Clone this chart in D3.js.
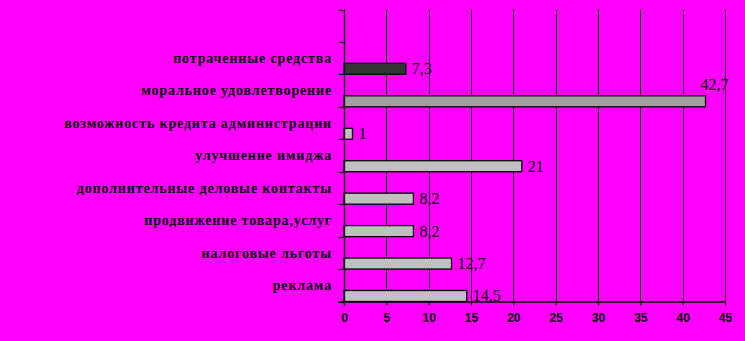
<!DOCTYPE html>
<html>
<head>
<meta charset="utf-8">
<script src="https://cdn.jsdelivr.net/npm/d3@7"></script>
<style>
  html, body { margin: 0; padding: 0; background: #ff00ff; }
  svg { display: block; }
</style>
</head>
<body>
<svg id="chart" width="745" height="341"></svg>
<script>
// Categories listed from the top of the chart to the bottom (first slot is left empty)
const categories = [
  "",
  "потраченные средства",
  "моральное удовлетворение",
  "возможность кредита администрации",
  "улучшение имиджа",
  "дополнительные деловые контакты",
  "продвижение товара,услуг",
  "налоговые льготы",
  "реклама"
];
const values = [null, 7.3, 42.7, 1, 21, 8.2, 8.2, 12.7, 14.5];
const valueLabels = ["", "7,3", "42,7", "1", "21", "8,2", "8,2", "12,7", "14,5"];
const barColors = [null, "#333333", "#a0a0a0", "#c0c0c0", "#c0c0c0", "#c0c0c0", "#c0c0c0", "#c0c0c0", "#c0c0c0"];
const xTicks = [0, 5, 10, 15, 20, 25, 30, 35, 40, 45];

const svg = d3.select("#chart");
const plotLeft = 344, plotRight = 725, plotTop = 9.5, plotBottom = 301.5;

const x = d3.scaleLinear().domain([0, 45]).range([plotLeft, plotRight]);
const y = d3.scaleBand().domain(d3.range(categories.length)).range([plotTop, plotBottom]).paddingInner(0).paddingOuter(0);
const barH = y.bandwidth() * 0.34;

// vertical grid lines
svg.append("g")
  .selectAll("line")
  .data(xTicks.filter(d => d > 0))
  .join("line")
  .attr("x1", d => Math.round(x(d)) + 0.5)
  .attr("x2", d => Math.round(x(d)) + 0.5)
  .attr("y1", plotTop)
  .attr("y2", plotBottom)
  .attr("stroke", "#000")
  .attr("stroke-width", 1);

// bars
const rows = categories.map((c, i) => ({ c, i, v: values[i], lab: valueLabels[i], col: barColors[i] }))
  .filter(d => d.v !== null);

svg.append("g")
  .selectAll("rect")
  .data(rows)
  .join("rect")
  .attr("x", x(0))
  .attr("y", d => y(d.i) + y.bandwidth() - barH)
  .attr("width", d => x(d.v) - x(0))
  .attr("height", barH)
  .attr("fill", d => d.col)
  .attr("stroke", "#000")
  .attr("stroke-width", 1.3);

// value labels; a label that would run past the plot edge is lifted above its bar
svg.append("g")
  .selectAll("text")
  .data(rows)
  .join("text")
  .each(function (d) {
    const barTop = y(d.i) + y.bandwidth() - barH;
    const overflow = x(d.v) + 36 > plotRight;
    d3.select(this)
      .attr("x", overflow ? x(d.v) - 5 : x(d.v) + 6)
      .attr("y", overflow ? barTop - 6 : barTop + barH / 2 + 5.5)
      .text(d.lab);
  })
  .attr("font-family", "'Liberation Serif', 'Times New Roman', serif")
  .attr("font-size", 16)
  .attr("fill", "#000");

// category labels, right-aligned, resting on the top edge of each bar
svg.append("g")
  .selectAll("text")
  .data(rows)
  .join("text")
  .attr("x", 332)
  .attr("y", d => y(d.i) + y.bandwidth() - barH - 0.5)
  .attr("text-anchor", "end")
  .attr("font-family", "'Liberation Serif', 'Times New Roman', serif")
  .attr("font-weight", "bold")
  .attr("font-size", 14)
  .attr("letter-spacing", 0.85)
  .attr("fill", "#000")
  .text(d => d.c);

// left (category) axis with ticks at band boundaries
const yAxis = svg.append("g");
yAxis.append("line")
  .attr("x1", plotLeft + 0.5).attr("x2", plotLeft + 0.5)
  .attr("y1", plotTop).attr("y2", plotBottom + 4)
  .attr("stroke", "#000").attr("stroke-width", 1.3);
yAxis.selectAll("line.tick")
  .data(d3.range(categories.length + 1))
  .join("line")
  .attr("class", "tick")
  .attr("x1", plotLeft - 5).attr("x2", plotLeft + 0.5)
  .attr("y1", i => Math.round(plotTop + i * y.step()) + 0.5)
  .attr("y2", i => Math.round(plotTop + i * y.step()) + 0.5)
  .attr("stroke", "#000").attr("stroke-width", 1.3);

// bottom value axis
const xAxis = d3.axisBottom(x)
  .tickValues(xTicks)
  .tickFormat(d3.format("d"))
  .tickSizeInner(4)
  .tickSizeOuter(0)
  .tickPadding(8);

const gx = svg.append("g")
  .attr("transform", `translate(0,${plotBottom})`)
  .call(xAxis);
gx.select(".domain").attr("d", `M${plotLeft - 6},0.5H${plotRight + 0.5}`).attr("stroke", "#000").attr("stroke-width", 1.3);
gx.selectAll(".tick line").attr("stroke", "#000").attr("stroke-width", 1.3);
gx.selectAll(".tick text")
  .attr("font-family", "'Liberation Sans', Arial, sans-serif")
  .attr("font-weight", "bold")
  .attr("font-size", 12)
  .attr("fill", "#000");
</script>
</body>
</html>
